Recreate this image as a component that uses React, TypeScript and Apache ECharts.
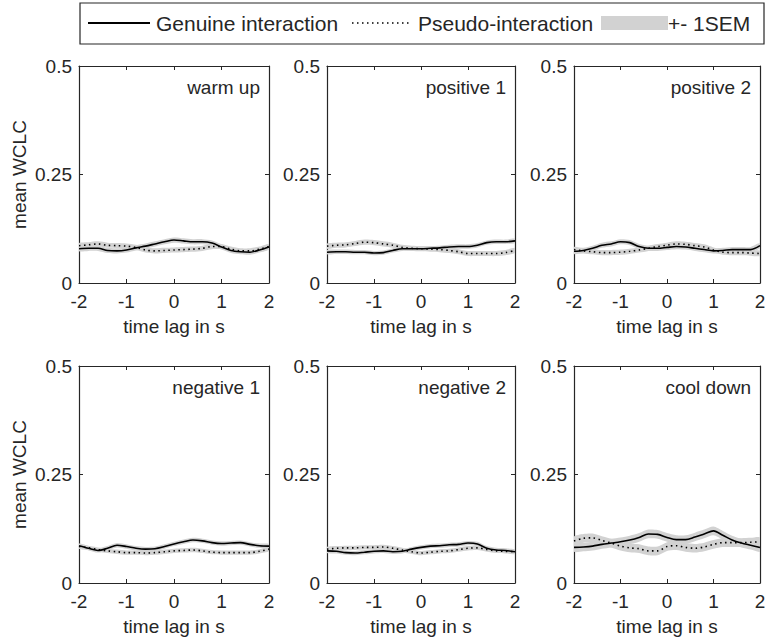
import React, { useEffect, useRef } from "react";
import * as echarts from "echarts";

const lags = [-2, -1.8, -1.6, -1.4, -1.2, -1.0, -0.8, -0.6, -0.4, -0.2, 0, 0.2, 0.4, 0.6, 0.8, 1.0, 1.2, 1.4, 1.6, 1.8, 2.0];

const panelTitles = ["warm up", "positive 1", "positive 2", "negative 1", "negative 2", "cool down"];

const warmUpGenuine = [0.079, 0.080, 0.080, 0.075, 0.074, 0.076, 0.081, 0.085, 0.090, 0.095, 0.099, 0.097, 0.095, 0.095, 0.092, 0.083, 0.075, 0.072, 0.071, 0.076, 0.083];
const warmUpPseudo = [0.086, 0.088, 0.090, 0.087, 0.086, 0.085, 0.082, 0.076, 0.074, 0.075, 0.076, 0.077, 0.078, 0.080, 0.084, 0.084, 0.078, 0.074, 0.074, 0.078, 0.084];

const positive1Genuine = [0.071, 0.072, 0.072, 0.071, 0.071, 0.069, 0.070, 0.075, 0.079, 0.079, 0.079, 0.080, 0.081, 0.083, 0.084, 0.084, 0.087, 0.093, 0.095, 0.095, 0.097];
const positive1Pseudo = [0.085, 0.087, 0.088, 0.091, 0.094, 0.093, 0.090, 0.087, 0.082, 0.080, 0.079, 0.078, 0.077, 0.075, 0.072, 0.068, 0.068, 0.068, 0.068, 0.070, 0.075];

const positive2Genuine = [0.073, 0.075, 0.080, 0.087, 0.090, 0.095, 0.093, 0.084, 0.080, 0.080, 0.082, 0.084, 0.083, 0.080, 0.077, 0.074, 0.075, 0.077, 0.077, 0.077, 0.086];
const positive2Pseudo = [0.077, 0.074, 0.072, 0.070, 0.070, 0.071, 0.073, 0.076, 0.080, 0.084, 0.087, 0.090, 0.089, 0.086, 0.083, 0.076, 0.071, 0.070, 0.070, 0.069, 0.068];

const negative1Genuine = [0.086, 0.080, 0.075, 0.080, 0.087, 0.084, 0.080, 0.078, 0.079, 0.084, 0.090, 0.095, 0.099, 0.097, 0.093, 0.091, 0.092, 0.093, 0.089, 0.086, 0.085];
const negative1Pseudo = [0.084, 0.081, 0.077, 0.074, 0.072, 0.070, 0.070, 0.069, 0.070, 0.072, 0.074, 0.075, 0.076, 0.074, 0.071, 0.070, 0.070, 0.070, 0.070, 0.073, 0.078];

const negative2Genuine = [0.074, 0.073, 0.070, 0.069, 0.071, 0.073, 0.074, 0.072, 0.073, 0.078, 0.082, 0.085, 0.086, 0.088, 0.089, 0.092, 0.090, 0.080, 0.076, 0.075, 0.072];
const negative2Pseudo = [0.078, 0.080, 0.081, 0.081, 0.082, 0.082, 0.083, 0.080, 0.076, 0.072, 0.069, 0.071, 0.073, 0.074, 0.077, 0.080, 0.081, 0.077, 0.074, 0.073, 0.072];

const coolDownGenuine = [0.082, 0.083, 0.085, 0.089, 0.092, 0.095, 0.099, 0.105, 0.113, 0.112, 0.105, 0.100, 0.100, 0.106, 0.113, 0.120, 0.110, 0.099, 0.092, 0.087, 0.082];
const coolDownPseudo = [0.097, 0.103, 0.104, 0.098, 0.092, 0.085, 0.081, 0.079, 0.074, 0.074, 0.084, 0.086, 0.082, 0.080, 0.083, 0.089, 0.093, 0.093, 0.093, 0.094, 0.095];

// standard error of the mean per panel (genuine, pseudo)
const semGenuine = [0.006, 0.005, 0.006, 0.005, 0.005, 0.010];
const semPseudo = [0.006, 0.006, 0.006, 0.005, 0.005, 0.010];

const xTicks = [-2, -1, 0, 1, 2];
const yTicks = [0, 0.25, 0.5];

const genuineSets = [warmUpGenuine, positive1Genuine, positive2Genuine, negative1Genuine, negative2Genuine, coolDownGenuine];
const pseudoSets = [warmUpPseudo, positive1Pseudo, positive2Pseudo, negative1Pseudo, negative2Pseudo, coolDownPseudo];

const FONT = "'Liberation Sans', Arial, Helvetica, sans-serif";
const BAND = "#d2d2d2";
const INK = "#262626";

export default function App() {
  const ref = useRef<HTMLDivElement>(null);
  useEffect(() => {
    if (!ref.current) return;
    const chart = echarts.init(ref.current, undefined, { renderer: "svg" });
    const colLeft = [79, 327, 574];
    const colWidth = [190, 188, 186];
    const rowTop = [66, 366];
    const gh = 217;

    const grids: any[] = [];
    const xAxes: any[] = [];
    const yAxes: any[] = [];
    const series: any[] = [];
    const graphics: any[] = [];

    for (let p = 0; p < 6; p++) {
      const r = Math.floor(p / 3);
      const c = p % 3;
      grids.push({
        left: colLeft[c],
        top: rowTop[r],
        width: colWidth[c],
        height: gh,
        show: false,
        containLabel: false,
        outerBoundsMode: "none",
      });
      const baseLine = { show: true, onZero: false, lineStyle: { color: INK, width: 1.2 } };
      const tick = { show: true, inside: true, length: 4, lineStyle: { color: INK } };
      xAxes.push({
        type: "value",
        gridIndex: p,
        min: xTicks[0],
        max: xTicks[xTicks.length - 1],
        interval: 1,
        position: "bottom",
        axisLine: baseLine,
        axisTick: tick,
        axisLabel: { show: true, color: INK, fontSize: 19, fontFamily: FONT, margin: 9 },
        splitLine: { show: false },
        name: "time lag in s",
        nameLocation: "middle",
        nameGap: 34,
        nameTextStyle: { color: INK, fontSize: 19, fontFamily: FONT },
      });
      xAxes.push({
        type: "value",
        gridIndex: p,
        min: xTicks[0],
        max: xTicks[xTicks.length - 1],
        interval: 1,
        position: "top",
        axisLine: baseLine,
        axisTick: tick,
        axisLabel: { show: false },
        splitLine: { show: false },
      });
      yAxes.push({
        type: "value",
        gridIndex: p,
        min: yTicks[0],
        max: yTicks[yTicks.length - 1],
        interval: 0.25,
        position: "left",
        axisLine: baseLine,
        axisTick: tick,
        axisLabel: { show: true, color: INK, fontSize: 19, fontFamily: FONT, margin: 7 },
        splitLine: { show: false },
        name: c === 0 ? "mean WCLC" : "",
        nameLocation: "middle",
        nameGap: 50,
        nameRotate: 90,
        nameTextStyle: { color: INK, fontSize: 19, fontFamily: FONT },
      });
      yAxes.push({
        type: "value",
        gridIndex: p,
        min: yTicks[0],
        max: yTicks[yTicks.length - 1],
        interval: 0.25,
        position: "right",
        axisLine: baseLine,
        axisTick: tick,
        axisLabel: { show: false },
        splitLine: { show: false },
      });

      const g = genuineSets[p];
      const ps = pseudoSets[p];
      const xi = 2 * p;
      const yi = 2 * p;

      const band = (vals: number[], sem: number) => {
        const rows = lags.map((x, i) => [x, vals[i] - sem, vals[i] + sem]);
        series.push({
          type: "custom",
          xAxisIndex: xi,
          yAxisIndex: yi,
          data: rows,
          encode: { x: 0, y: [1, 2] },
          clip: true,
          silent: true,
          z: 1,
          renderItem: (params: any, api: any) => {
            if (params.dataIndex !== 0) return null;
            const upper = rows.map((row) => api.coord([row[0], row[2]]));
            const lower = rows.map((row) => api.coord([row[0], row[1]])).reverse();
            return {
              type: "polygon",
              shape: { points: upper.concat(lower), smooth: 0.25 },
              style: { fill: BAND, stroke: "none" },
            };
          },
        });
      };
      band(g, semGenuine[p]);
      band(ps, semPseudo[p]);

      series.push({
        type: "line",
        xAxisIndex: xi,
        yAxisIndex: yi,
        symbol: "none",
        smooth: 0.3,
        lineStyle: { color: "#000", width: 1.6, type: "solid" },
        data: lags.map((x, i) => [x, g[i]]),
        z: 3,
      });
      series.push({
        type: "line",
        xAxisIndex: xi,
        yAxisIndex: yi,
        symbol: "none",
        smooth: 0.3,
        lineStyle: { color: "#000", width: 1.6, type: [1.5, 3.5] },
        data: lags.map((x, i) => [x, ps[i]]),
        z: 3,
      });

      graphics.push({
        type: "text",
        x: colLeft[c] + colWidth[c] - 9,
        y: rowTop[r] + 12,
        z: 10,
        style: {
          text: panelTitles[p],
          fontSize: 19,
          fontFamily: FONT,
          fill: INK,
          align: "right",
          verticalAlign: "top",
        },
      });
    }

    // legend
    graphics.push({
      type: "rect",
      shape: { x: 80, y: 3, width: 684, height: 41 },
      style: { fill: "#fff", stroke: INK, lineWidth: 1.2 },
    });
    graphics.push({ type: "line", shape: { x1: 88, y1: 23, x2: 150, y2: 23 }, style: { stroke: "#000", lineWidth: 1.8 } });
    graphics.push({ type: "text", x: 156, y: 23, style: { text: "Genuine interaction", fontSize: 21, fontFamily: FONT, fill: INK, verticalAlign: "middle" } });
    graphics.push({ type: "line", shape: { x1: 352, y1: 23, x2: 411, y2: 23 }, style: { stroke: "#000", lineWidth: 1.5, lineDash: [1.5, 3.5] } });
    graphics.push({ type: "text", x: 418, y: 23, style: { text: "Pseudo-interaction", fontSize: 21, fontFamily: FONT, fill: INK, verticalAlign: "middle" } });
    graphics.push({ type: "rect", shape: { x: 601, y: 16, width: 67, height: 14 }, style: { fill: BAND } });
    graphics.push({ type: "text", x: 668, y: 23, style: { text: "+- 1SEM", fontSize: 21, fontFamily: FONT, fill: INK, verticalAlign: "middle" } });

    chart.setOption({
      animation: false,
      backgroundColor: "#fff",
      grid: grids,
      xAxis: xAxes,
      yAxis: yAxes,
      series,
      graphic: graphics,
    });
    return () => chart.dispose();
  }, []);
  return (
    <div
      ref={ref}
      style={{ position: "fixed", left: 0, top: 0, width: 766, height: 644, background: "#fff" }}
    />
  );
}
